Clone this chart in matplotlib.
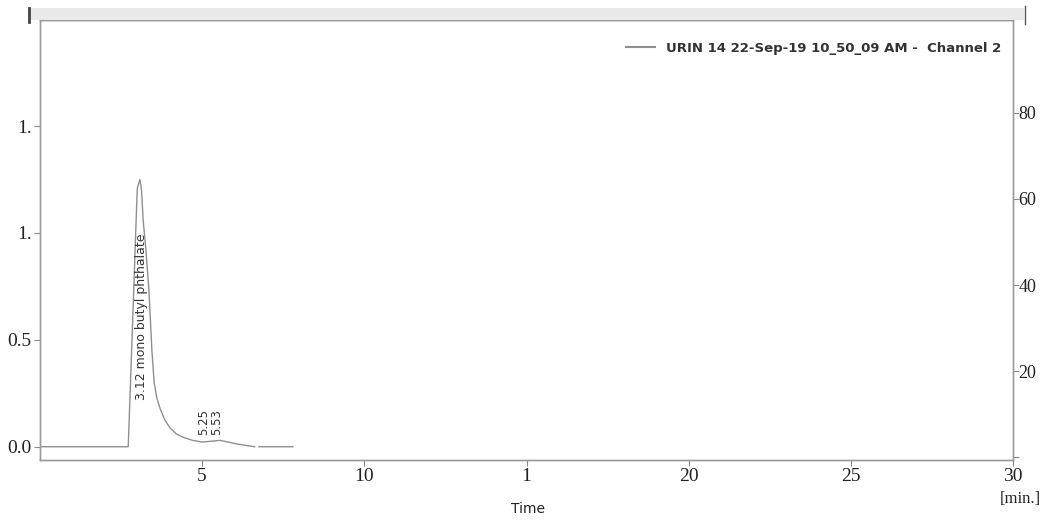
import numpy as np
import matplotlib.pyplot as plt
from matplotlib.patches import Rectangle
from matplotlib.lines import Line2D

# chromatogram trace (time in min, signal)
time = [0.0, 2.72, 2.80, 2.88, 2.95, 3.00, 3.08, 3.13, 3.18, 3.26, 3.36, 3.45,
        3.52, 3.60, 3.70, 3.85, 4.00, 4.20, 4.40, 4.70, 5.00, 5.30,
        5.55, 5.80, 6.10, 6.40, 6.62, np.nan, 6.75, 7.80]
signal = [0.0, 0.0, 0.34, 0.69, 1.0, 1.21, 1.25, 1.20, 1.06, 0.93, 0.73, 0.45,
          0.30, 0.23, 0.18, 0.125, 0.09, 0.06, 0.045, 0.03, 0.022, 0.026,
          0.03, 0.022, 0.012, 0.005, 0.0, np.nan, 0.0, 0.0]

peak_labels = ['3.12 mono butyl phthalate', '5.25', '5.53']
peak_x = [3.13, 5.05, 5.44]
peak_y = [0.22, 0.055, 0.055]
peak_size = [9, 8.5, 8.5]

xticks = [5, 10, 15, 20, 25, 30]
xtick_labels = ['5', '10', '1', '20', '25', '30']
yticks = [0.0, 0.5, 1.0, 1.5]
ytick_labels = ['0.0', '0.5', '1.', '1.']
y2ticks = [0, 20, 40, 60, 80]
y2tick_labels = ['', '20', '40', '60', '80']

legend_label = 'URIN 14 22-Sep-19 10_50_09 AM -  Channel 2'

W, H = 1045, 520
fig = plt.figure(figsize=(W / 100, H / 100), dpi=100)
ax = fig.add_axes([40 / W, (H - 460) / H, (1013 - 40) / W, 440 / H])

ax.plot(time, signal, color='#8f8f8f', linewidth=1.0)
ax.set_xlim(0, 30)
ax.set_ylim(-0.062, 1.996)

for lab, px, py, fs in zip(peak_labels, peak_x, peak_y, peak_size):
    ax.text(px, py, lab, rotation=90, ha='center', va='bottom',
            fontsize=fs, color='#333333', family='DejaVu Sans')

serif = 'Liberation Serif'
ax.set_xticks(xticks)
ax.set_xticklabels(xtick_labels, family=serif, fontsize=14)
ax.set_yticks(yticks)
ax.set_yticklabels(ytick_labels, family=serif, fontsize=14)
ax.tick_params(direction='out', length=4, width=0.8, color='#888888',
               labelcolor='#222222', pad=2)

ax2 = ax.twinx()
ax2.set_ylim(-0.6, 101.5)
ax2.set_yticks(y2ticks)
ax2.set_yticklabels(y2tick_labels, family=serif, fontsize=13)
ax2.tick_params(direction='out', length=4, width=0.8, color='#888888',
                labelcolor='#222222', pad=0)

for a in (ax, ax2):
    for s in a.spines.values():
        s.set_color('#9a9a9a')
        s.set_linewidth(1.0)
ax.spines['top'].set_color('#6f6f6f')

handle = Line2D([], [], color='#8f8f8f', linewidth=1.5)
ax.legend([handle], [legend_label], loc='center right',
          bbox_to_anchor=(1.0, 0.936), frameon=False, handlelength=2.2,
          handletextpad=0.8, prop={'family': 'DejaVu Sans', 'size': 9.5,
                                   'weight': 'bold'}, labelcolor='#333333')

# scanned header band
fig.patches.append(Rectangle((28 / W, (H - 20) / H), (1024 - 28) / W, 12 / H,
                             transform=fig.transFigure, facecolor='#e9e9e9',
                             edgecolor='none', zorder=0))
fig.add_artist(Line2D([29 / W, 29 / W], [(H - 22) / H, (H - 8) / H],
                      transform=fig.transFigure, color='#444444', linewidth=2))
fig.add_artist(Line2D([1025 / W, 1025 / W], [(H - 24) / H, (H - 6) / H],
                      transform=fig.transFigure, color='#555555', linewidth=1))

fig.text(528 / W, 1 - 509 / H, 'Time', ha='center', va='center',
         fontsize=10, family='DejaVu Sans', color='#222222')
fig.text(1020 / W, 1 - 499 / H, '[min.]', ha='center', va='center',
         fontsize=12, family=serif, color='#222222')

fig.savefig('out.png', dpi=100)
